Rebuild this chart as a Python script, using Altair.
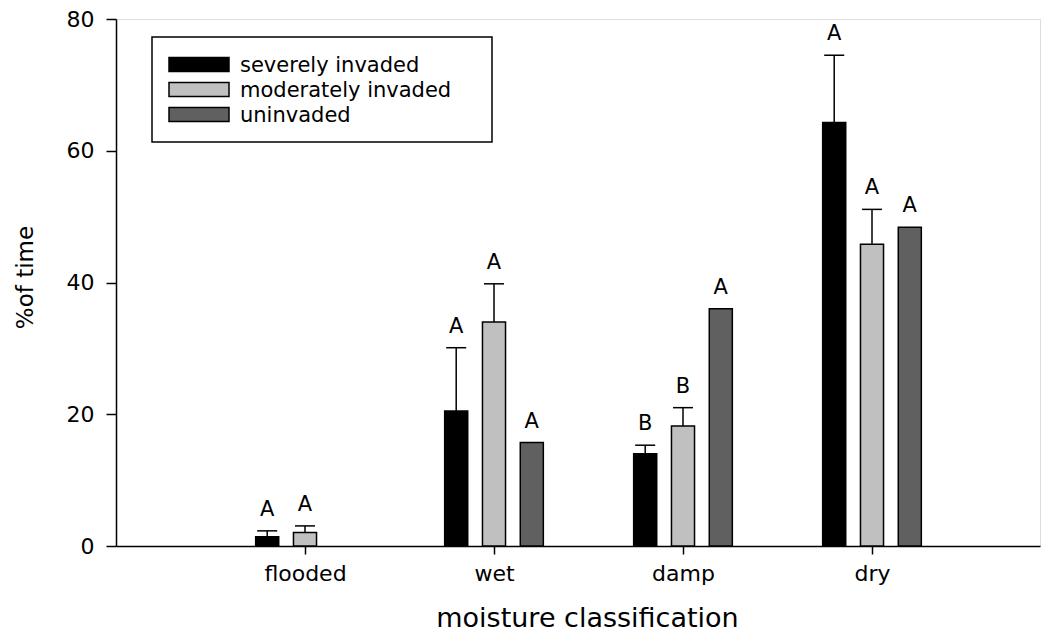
import altair as alt
import pandas as pd

# --- data -------------------------------------------------------------
categories = ["flooded", "wet", "damp", "dry"]
groups = ["severely invaded", "moderately invaded", "uninvaded"]
colors = ["#000000", "#c0c0c0", "#606060"]

severe_mean = [1.4, 20.5, 14.0, 64.3]
severe_err = [0.9, 9.6, 1.3, 10.2]
severe_letter = ["A", "A", "B", "A"]

moderate_mean = [2.05, 34.0, 18.2, 45.8]
moderate_err = [1.0, 5.8, 2.8, 5.3]
moderate_letter = ["A", "A", "B", "A"]

uninvaded_mean = [None, 15.7, 36.0, 48.4]
uninvaded_err = [None, None, None, None]
uninvaded_letter = [None, "A", "A", "A"]

means = [severe_mean, moderate_mean, uninvaded_mean]
errs = [severe_err, moderate_err, uninvaded_err]
letters = [severe_letter, moderate_letter, uninvaded_letter]

# --- layout constants ---------------------------------------------------
W, H = 924, 527
GROUP_STEP = 0.2      # distance between bars within a category (x units)
BAR_HALF = 0.061      # half bar width (x units)
CAP_HALF = 0.053      # half error-cap width (x units)
FONT = "DejaVu Sans"

rows = []
for gi, g in enumerate(groups):
    for ci, c in enumerate(categories):
        m = means[gi][ci]
        if m is None:
            continue
        e = errs[gi][ci]
        center = ci + 1 + (gi - 1) * GROUP_STEP
        top = m + e if e is not None else m
        rows.append({
            "category": c, "group": g, "mean": m,
            "upper": m + e if e is not None else None,
            "label_y": top, "letter": letters[gi][ci],
            "xc": center, "x0": center - BAR_HALF, "x1": center + BAR_HALF,
            "cap0": center - CAP_HALF, "cap1": center + CAP_HALF,
        })
df = pd.DataFrame(rows)
df_err = df.dropna(subset=["upper"])

label_expr = "[" + ",".join(f"'{c}'" for c in categories) + "][datum.value-1]"

x_scale = alt.Scale(domain=[0, W / 189.0], nice=False, zero=False)
y_scale = alt.Scale(domain=[0, 80], nice=False)
color_scale = alt.Scale(domain=groups, range=colors)

x_axis = alt.Axis(values=[1, 2, 3, 4], labelExpr=label_expr, grid=False,
                  tickSize=8, tickWidth=1.5, tickColor="black",
                  domainColor="black", domainWidth=1.5,
                  labelFont=FONT, labelFontSize=22, labelColor="black",
                  labelPadding=9, labelBaseline="top",
                  title="moisture classification", titleFont=FONT,
                  titleFontSize=27, titleFontWeight="normal", titleColor="black",
                  titleX=471, titleY=80, titleBaseline="alphabetic",
                  titleAlign="center")
y_axis = alt.Axis(values=[0, 20, 40, 60, 80], grid=False,
                  tickSize=10, tickWidth=1.5, tickColor="black",
                  domainColor="black", domainWidth=1.5,
                  labelFont=FONT, labelFontSize=22, labelColor="black",
                  labelPadding=12,
                  title="%of time", titleFont=FONT, titleFontSize=23,
                  titleFontWeight="normal", titleColor="black",
                  titleAngle=270, titleX=-84, titleY=258,
                  titleBaseline="alphabetic", titleAlign="center")

base = alt.Chart(df)

bars = base.mark_bar(stroke="black", strokeWidth=1.5).encode(
    x=alt.X("x0:Q", scale=x_scale, axis=x_axis),
    x2="x1:Q",
    y=alt.Y("mean:Q", scale=y_scale, axis=y_axis),
    y2=alt.datum(0),
    fill=alt.Fill("group:N", scale=color_scale, legend=None),
)

stems = alt.Chart(df_err).mark_rule(color="black", strokeWidth=1.5).encode(
    x=alt.X("xc:Q", scale=x_scale), y="mean:Q", y2="upper:Q")

caps = alt.Chart(df_err).mark_rule(color="black", strokeWidth=1.5).encode(
    x=alt.X("cap0:Q", scale=x_scale), x2="cap1:Q", y="upper:Q")

marks = base.mark_text(font=FONT, fontSize=21, color="black",
                       baseline="alphabetic", dy=-15).encode(
    x=alt.X("xc:Q", scale=x_scale), y="label_y:Q", text="letter:N")

# --- legend box -----------------------------------------------------------
one = pd.DataFrame({"k": [0]})
legend_layers = [
    alt.Chart(one).mark_rect(fill="white", stroke="black", strokeWidth=1.5).encode(
        x=alt.value(36), x2=alt.value(376), y=alt.value(18), y2=alt.value(123))
]
for i, (g, col) in enumerate(zip(groups, colors)):
    yc = 45.5 + i * 25
    legend_layers.append(
        alt.Chart(one).mark_rect(fill=col, stroke="black", strokeWidth=1.5).encode(
            x=alt.value(53), x2=alt.value(113),
            y=alt.value(yc - 7), y2=alt.value(yc + 7)))
    legend_layers.append(
        alt.Chart(one).mark_text(text=g, font=FONT, fontSize=21, color="black",
                                 align="left", baseline="middle", dy=1).encode(
            x=alt.value(124), y=alt.value(yc)))

chart = alt.layer(bars, stems, caps, marks, *legend_layers).properties(
    width=W, height=H,
    padding={"left": 116, "top": 19, "right": 11, "bottom": 89},
    autosize=alt.AutoSizeParams(type="none"),
).configure_view(stroke=None).configure(background="white")

chart.save("out.html", embed_options={"renderer": "svg", "actions": False})
